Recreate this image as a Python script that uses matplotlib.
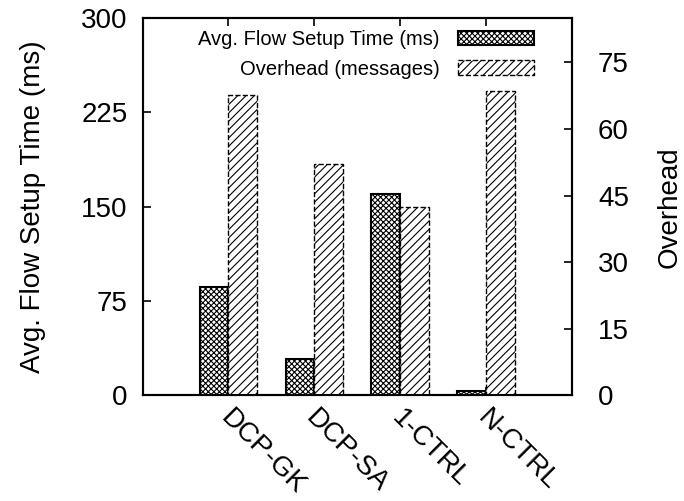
import numpy as np
import matplotlib
matplotlib.use('Agg')
import matplotlib.pyplot as plt
from matplotlib.transforms import ScaledTranslation

categories = ['DCP-GK', 'DCP-SA', '1-CTRL', 'N-CTRL']
setup_time = [86.5, 29, 160, 3.3]      # ms, left axis
overhead = [67.7, 52.1, 42.4, 68.6]     # messages, right axis

plt.rcParams['font.family'] = ['Liberation Sans', 'DejaVu Sans']
plt.rcParams['hatch.linewidth'] = 0.8

fig = plt.figure(figsize=(6.84, 5.01), dpi=100)
ax = fig.add_axes([0.2086, 0.2106, 0.6272, 0.7534])
ax2 = ax.twinx()

x = np.arange(len(categories))
w = 0.335

b1 = ax.bar(x, setup_time, width=-w, align='edge', facecolor='white',
            edgecolor='black', hatch='xxxxxx', linewidth=1.5, zorder=2,
            label='Avg. Flow Setup Time (ms)')
b2 = ax2.bar(x, overhead, width=w, align='edge', facecolor='white',
             edgecolor='black', hatch='////', linewidth=1.0, linestyle='--',
             zorder=2, label='Overhead (messages)')

ax.set_xlim(-1, 4)
ax.set_ylim(0, 300)
ax2.set_ylim(0, 85)
ax.set_yticks([0, 75, 150, 225, 300])
ax2.set_yticks([0, 15, 30, 45, 60, 75])
ax.set_xticks(x)
ax.set_xticklabels(categories, rotation=-45, ha='left', va='top',
                   rotation_mode='anchor')

ax.tick_params(axis='x', direction='in', top=True, length=6, width=1.2,
               labelsize=20, pad=8)
ax.tick_params(axis='y', direction='in', right=False, length=6, width=1.2,
               labelsize=20, pad=11)
ax2.tick_params(axis='y', direction='in', length=6, width=1.2,
                labelsize=20, pad=19)

# nudge the slanted labels a bit to the right, like gnuplot does
shift = ScaledTranslation(5 / 100, 2 / 100, fig.dpi_scale_trans)
for lbl in ax.get_xticklabels():
    lbl.set_transform(lbl.get_transform() + shift)

for a in (ax, ax2):
    for s in a.spines.values():
        s.set_linewidth(1.5)

ax.set_ylabel('Avg. Flow Setup Time (ms)', fontsize=20, labelpad=25)
ax2.set_ylabel('Overhead', fontsize=20, labelpad=20)

ax2.legend([b1, b2], [b1.get_label(), b2.get_label()], loc='upper right',
           bbox_to_anchor=(0.955, 1.015), frameon=False, markerfirst=False,
           fontsize=14.5, handlelength=3.8, handleheight=0.7,
           labelspacing=0.5, handletextpad=0.9)

fig.savefig('out.png', dpi=100)
